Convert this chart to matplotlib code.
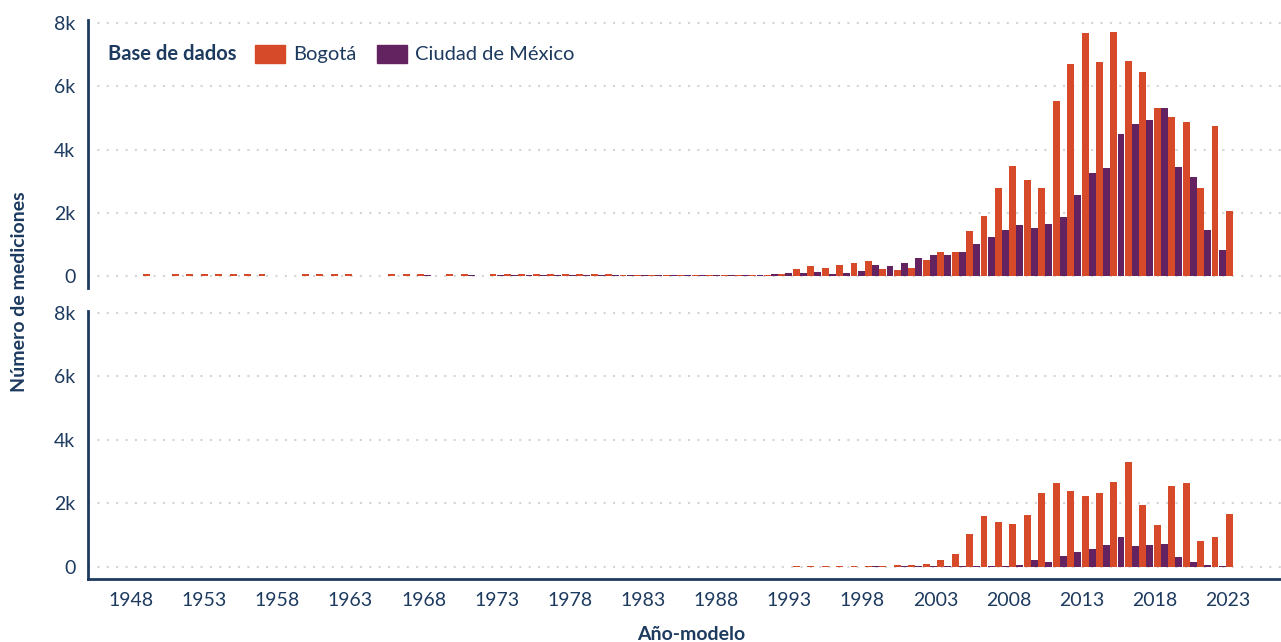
import numpy as np
import matplotlib.pyplot as plt
from matplotlib.patches import Patch

plt.rcParams['font.family'] = ['Lato', 'DejaVu Sans']

navy = '#1d3a5f'
red = '#d64a29'
purple = '#632360'

# model years, one value per year 1948..2023
years = np.arange(1948, 2024)

# upper panel
top_bogota = ([60, 0, 60, 60, 60, 60, 60, 60, 60, 0]
              + [0, 60, 60, 60, 60, 0, 0, 60, 60, 60]
              + [0, 60, 60, 0, 60, 60, 60, 60, 60, 60]
              + [60, 60, 70, 40, 45, 35, 45, 45, 45, 45]
              + [45, 45, 45, 45, 60, 220, 320, 255, 350, 410]
              + [475, 220, 190, 255, 500, 760, 760, 1420, 1890, 2780]
              + [3470, 3030, 2780, 5530, 6690, 7670, 6760, 7710, 6790, 6440]
              + [5310, 5020, 4860, 2780, 4740, 2050])
top_cdmx = ([0] * 10
            + [0, 0, 0, 0, 0, 0, 0, 0, 0, 45]
            + [0, 0, 45, 0, 45, 45, 45, 45, 45, 45]
            + [45, 45, 35, 35, 35, 35, 35, 35, 35, 35]
            + [35, 40, 40, 60, 95, 95, 125, 60, 95, 160]
            + [350, 320, 410, 570, 660, 660, 760, 1010, 1230, 1450]
            + [1610, 1520, 1640, 1860, 2560, 3250, 3410, 4480, 4800, 4930]
            + [5310, 3440, 3130, 1450, 820, 0])

# lower panel
bottom_bogota = ([0] * 40
                 + [0, 0, 0, 0, 0, 30, 40, 40, 40, 30]
                 + [40, 40, 55, 55, 85, 210, 400, 1030, 1600, 1420]
                 + [1350, 1630, 2330, 2640, 2390, 2230, 2330, 2670, 3310, 1950]
                 + [1320, 2550, 2640, 810, 940, 1660])
bottom_cdmx = ([0] * 50
               + [30, 0, 30, 30, 30, 30, 30, 30, 30, 30]
               + [55, 210, 150, 340, 460, 560, 685, 940, 650, 685]
               + [715, 305, 150, 50, 30, 0])

ytick_vals = [0, 2000, 4000, 6000, 8000]
ytick_labels = ['0', '2k', '4k', '6k', '8k']
xtick_years = np.arange(1948, 2024, 5)

fig = plt.figure(figsize=(12.81, 6.42), dpi=100)
W, H = 1281, 642
ax_top = fig.add_axes([88 / W, 1 - 288 / H, 1 - 88 / W, 268 / H])
ax_bot = fig.add_axes([88 / W, 1 - 579 / H, 1 - 88 / W, 268 / H])

for ax, bog, mex in [(ax_top, top_bogota, top_cdmx), (ax_bot, bottom_bogota, bottom_cdmx)]:
    ax.bar(years + 0.24, bog, width=0.48, color=red, zorder=3)
    ax.bar(years + 0.73, mex, width=0.48, color=purple, zorder=3)
    ax.set_xlim(1944.19, 2026.81)
    ax.set_yticks(ytick_vals)
    ax.set_yticklabels(ytick_labels)
    ax.grid(axis='y', linestyle=(0, (1, 3.5)), linewidth=1.5, color='#d4d4d4', zorder=0)
    ax.grid(axis='x', visible=False)
    for s in ['top', 'right']:
        ax.spines[s].set_visible(False)
    ax.spines['left'].set_color(navy)
    ax.spines['left'].set_linewidth(2)
    ax.tick_params(axis='y', length=0, pad=9, labelsize=14, labelcolor=navy)
    ax.set_axisbelow(True)

ax_top.set_ylim(-379, 8095)
ax_bot.set_ylim(-378, 8063)

ax_top.spines['bottom'].set_visible(False)
ax_top.set_xticks([])

ax_bot.spines['bottom'].set_color(navy)
ax_bot.spines['bottom'].set_linewidth(2)
# labels sit a little off the bar groups in the original
ax_bot.set_xticks(xtick_years + np.linspace(-0.83, 0.14, len(xtick_years)))
ax_bot.set_xticklabels([str(y) for y in xtick_years])
ax_bot.tick_params(axis='x', length=0, pad=9, labelsize=14, labelcolor=navy)

fig.text(20 / W, 1 - 292 / H, 'Número de mediciones', rotation=90, ha='center', va='center',
         fontsize=14, fontweight='bold', color=navy)
fig.text(691 / W, 1 - 634 / H, 'Año-modelo', ha='center', va='center',
         fontsize=14, fontweight='bold', color=navy)

# legend
fig.text(108 / W, 1 - 54 / H, 'Base de dados', ha='left', va='center',
         fontsize=14.5, fontweight='bold', color=navy)
leg = ax_top.legend(handles=[Patch(color=red, label='Bogotá'), Patch(color=purple, label='Ciudad de México')],
                    loc='center left', bbox_to_anchor=(255 / W, 1 - 54 / H), bbox_transform=fig.transFigure,
                    ncol=2, frameon=False, fontsize=14.5, handlelength=1.5, handleheight=1.0,
                    handletextpad=0.4, columnspacing=1.0, borderpad=0, borderaxespad=0)
for t in leg.get_texts():
    t.set_color(navy)

fig.savefig('out.png', dpi=100)
